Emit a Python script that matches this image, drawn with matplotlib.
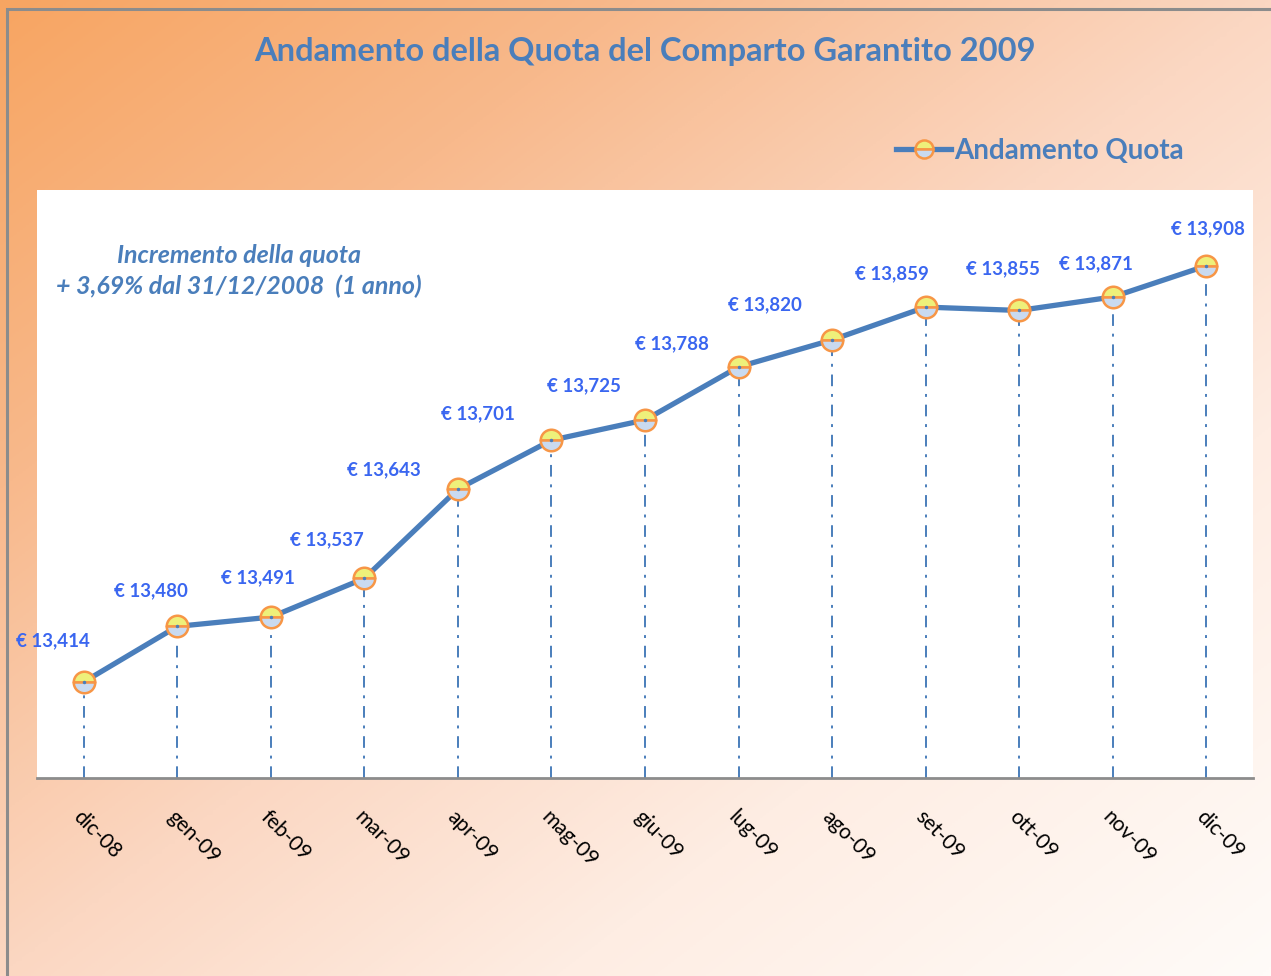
import numpy as np
import matplotlib
matplotlib.use("Agg")
import matplotlib.pyplot as plt
from matplotlib.colors import LinearSegmentedColormap
from matplotlib.patches import Rectangle
from matplotlib.lines import Line2D

# ── Data ──────────────────────────────────────────────────────────────────────
MONTHS = ["dic-08", "gen-09", "feb-09", "mar-09", "apr-09", "mag-09", "giu-09",
          "lug-09", "ago-09", "set-09", "ott-09", "nov-09", "dic-09"]
QUOTA = [13.414, 13.480, 13.491, 13.537, 13.643, 13.701, 13.725,
         13.788, 13.820, 13.859, 13.855, 13.871, 13.908]

# label offsets (points) from each marker, layout only
LABEL_OFFSETS = [(-22, 30), (-19, 26), (-9, 28), (-27, 28), (-53, 14), (-53, 19),
                 (-44, 25), (-48, 17), (-48, 25), (-24, 24), (-12, 30), (-12, 24),
                 (1, 27)]

BLUE = "#4A7EBB"
LABEL_BLUE = "#3A66F0"
ORANGE = "#F79646"
FONT = ["Lato", "DejaVu Sans"]

plt.rcParams["font.family"] = FONT

fig = plt.figure(figsize=(12.71, 9.76), dpi=100)

# ── Gradient background ───────────────────────────────────────────────────────
bg = fig.add_axes([0, 0, 1, 1], zorder=0)
bg.set_axis_off()
gx, gy = np.meshgrid(np.linspace(0, 1, 400), np.linspace(0, 1, 400))
grad = np.clip((gx + gy) / 2, 0, 1)
cmap = LinearSegmentedColormap.from_list(
    "bg", [(0, "#F7A562"), (0.25, "#F8B98C"), (0.5, "#FBD7C2"),
           (0.72, "#FEEDE3"), (1, "#FFFBF8")])
bg.imshow(grad, cmap=cmap, aspect="auto", extent=[0, 1, 0, 1], origin="upper")
bg.set_xlim(0, 1)
bg.set_ylim(0, 1)
bg.add_patch(Rectangle((7 / 1271, -0.1), 1.2, 1 - 9 / 976 + 0.1,
                       fill=False, edgecolor="#8C8C8C", linewidth=2.2))

# ── Plot area ─────────────────────────────────────────────────────────────────
ax = fig.add_axes([37 / 1271, 198 / 976, 1216 / 1271, 588 / 976], zorder=1)
ax.set_facecolor("white")
x = np.arange(len(MONTHS))

ax.vlines(x, 13.300, QUOTA, colors=BLUE, linestyles=(0, (6, 4, 1.5, 4)),
          linewidth=1.4, zorder=2)
ax.plot(x, QUOTA, color=BLUE, linewidth=3.8, zorder=3, solid_capstyle="round")
ax.plot(x, QUOTA, linestyle="none", marker="o", markersize=15.5,
        fillstyle="top", markerfacecolor="#EEF07A", markerfacecoloralt="#C9DAF0",
        markeredgecolor=ORANGE, markeredgewidth=1.8, zorder=4)
ax.plot(x, QUOTA, linestyle="none", marker="o", markersize=1.5,
        color=BLUE, zorder=5)

for xi, v, off in zip(x, QUOTA, LABEL_OFFSETS):
    ax.annotate(f"€ {v:.3f}".replace(".", ","), xy=(xi, v), xytext=off,
                textcoords="offset points", ha="center", va="center",
                fontsize=13.5, fontweight="bold", color=LABEL_BLUE, zorder=6)

ax.set_xlim(-0.5, len(MONTHS) - 0.5)
ax.set_ylim(13.300, 13.998)
ax.set_yticks([])
ax.set_xticks(x)
ax.set_xticklabels(MONTHS, rotation=-45, ha="left", va="top",
                   rotation_mode="anchor", fontsize=15)
ax.tick_params(axis="x", length=0, pad=21)
for s in ["top", "right", "left"]:
    ax.spines[s].set_visible(False)
ax.spines["bottom"].set_color("#8C8C8C")
ax.spines["bottom"].set_linewidth(2)

ax.text(0.166, 0.862, "Incremento della quota\n+ 3,69% dal 31/12/2008  (1 anno)",
        transform=ax.transAxes, ha="center", va="center", fontsize=18,
        fontstyle="italic", fontweight="bold", color=BLUE, linespacing=1.4)

# ── Title and legend ──────────────────────────────────────────────────────────
fig.text(645 / 1271, 1 - 51 / 976,
         "Andamento della Quota del Comparto Garantito 2009",
         ha="center", va="center", fontsize=23.5, fontweight="bold", color=BLUE)

h = Line2D([], [], color=BLUE, linewidth=3.8, marker="o", markersize=13,
           fillstyle="top", markerfacecolor="#EEF07A", markerfacecoloralt="#C9DAF0",
           markeredgecolor=ORANGE, markeredgewidth=1.8)
leg = ax.legend([h], ["Andamento Quota"], loc="center right",
                bbox_to_anchor=(1195 / 1271, 1 - 151 / 976),
                bbox_transform=fig.transFigure, frameon=False,
                handlelength=2.0, handletextpad=0.1, borderaxespad=0,
                prop={"size": 20, "weight": "bold", "family": FONT})
leg.get_texts()[0].set_color(BLUE)

fig.savefig("out.png", dpi=100)
